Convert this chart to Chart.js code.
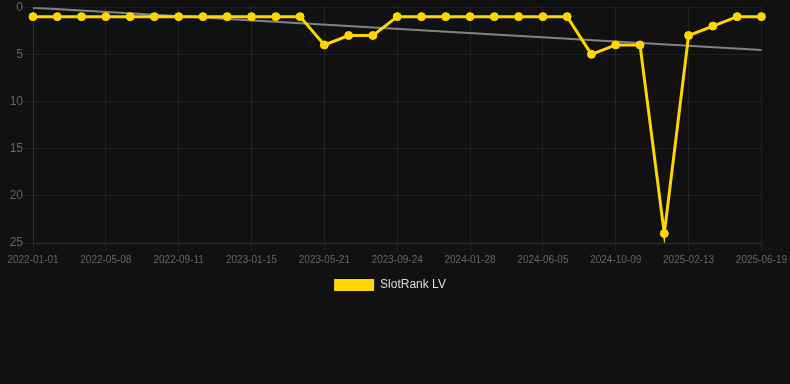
<!DOCTYPE html>
<html>
<head>
<meta charset="utf-8">
<script src="https://cdn.jsdelivr.net/npm/chart.js@4.4.1/dist/chart.umd.min.js"></script>
<style>
  html, body { margin: 0; padding: 0; background: #111111; }
  .wrap { position: relative; width: 790px; height: 301px; }
</style>
</head>
<body>
<div class="wrap"><canvas id="rankChart"></canvas></div>
<script>
// SlotRank LV history: rank per snapshot, lower is better (axis reversed).
const dates = [
    '2022-01-01', '2022-02-12', '2022-03-26', '2022-05-08', '2022-06-19', '2022-07-31',
    '2022-09-11', '2022-10-23', '2022-12-04', '2023-01-15', '2023-02-26', '2023-04-09',
    '2023-05-21', '2023-07-02', '2023-08-13', '2023-09-24', '2023-11-05', '2023-12-17',
    '2024-01-28', '2024-03-10', '2024-04-22', '2024-06-05', '2024-07-17', '2024-08-28',
    '2024-10-09', '2024-11-20', '2025-01-01', '2025-02-13', '2025-03-27', '2025-05-08',
    '2025-06-19',
];
const ranks = [
    1, 1, 1, 1, 1, 1, 1, 1, 1, 1, 1, 1,
    4, 3, 3, 1, 1, 1, 1, 1, 1, 1, 1,
    5, 4, 4, 24, 3, 2, 1, 1,
];
// trend line endpoints
const trendStart = 0.05;
const trendEnd = 4.55;
const yTicks = [0, 5, 10, 15, 20, 25];

const GOLD = '#ffd700';
const GRID = 'rgba(255,255,255,0.07)';
const TICK = '#666666';

const trend = dates.map((d, i) => i === 0 ? trendStart : (i === dates.length - 1 ? trendEnd : null));

Chart.defaults.font.family = '"Liberation Sans", Arial, Helvetica, sans-serif';

new Chart(document.getElementById('rankChart'), {
    type: 'line',
    data: {
        labels: dates,
        datasets: [
            {
                label: 'SlotRank LV',
                data: ranks,
                borderColor: GOLD,
                backgroundColor: GOLD,
                borderWidth: 3,
                pointRadius: 4,
                pointBorderWidth: 1,
                pointBackgroundColor: GOLD,
                pointBorderColor: GOLD,
                tension: 0,
                order: 1,
            },
            {
                label: '_trend',
                data: trend,
                borderColor: 'rgba(150,150,150,0.85)',
                borderWidth: 2,
                pointRadius: 0,
                spanGaps: true,
                fill: false,
                order: 2,
            },
        ],
    },
    options: {
        responsive: true, maintainAspectRatio: false,
        animation: false,
        layout: { padding: { right: 10 } },
        plugins: {
            legend: {
                position: 'bottom',
                labels: {
                    color: '#dddddd',
                    font: { size: 12 },
                    boxWidth: 40,
                    boxHeight: 12,
                    filter: (item) => !item.text.startsWith('_'),
                    generateLabels: (chart) => Chart.defaults.plugins.legend.labels.generateLabels(chart)
                        .map(item => ({ ...item, lineWidth: 0 })),
                },
            },
            tooltip: { enabled: false },
        },
        scales: {
            x: {
                grid: { color: GRID },
                border: { color: GRID },
                ticks: {
                    color: TICK,
                    font: { size: 10 },
                    autoSkip: false,
                    maxRotation: 0,
                    callback: (v, i) => (i % 3 === 0 ? dates[i] : null),
                },
            },
            y: {
                reverse: true,
                min: yTicks[0],
                max: yTicks[yTicks.length - 1],
                grid: { color: GRID, tickLength: 10 },
                border: { color: GRID },
                afterBuildTicks: (axis) => { axis.ticks = yTicks.map(v => ({ value: v })); },
                afterFit: (axis) => { axis.width = 33; },
                ticks: { color: TICK, font: { size: 12 }, padding: 0 },
            },
        },
    },
});
</script>
</body>
</html>
